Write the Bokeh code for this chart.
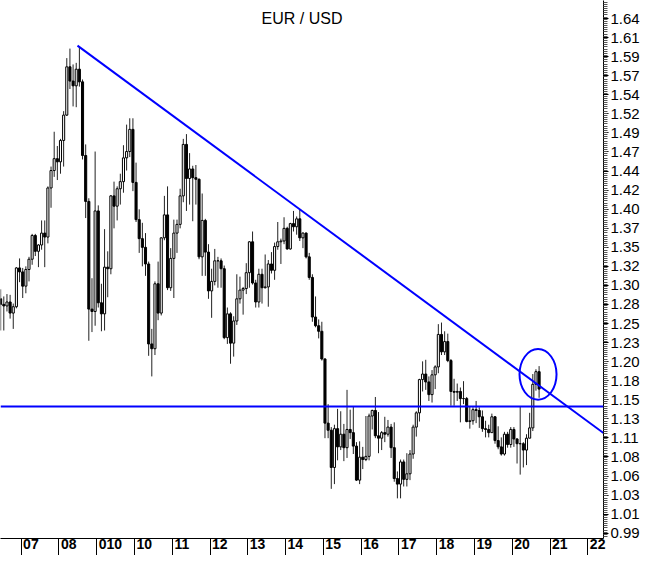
import numpy as np
from bokeh.plotting import figure
from bokeh.models import (FixedTicker, CustomJSTickFormatter, Span, Label,
                          Range1d, ColumnDataSource)
from bokeh.embed import file_html
from bokeh.resources import INLINE

# ---------------- data (monthly EUR/USD candles, Jun 2006 - Sep 2020) -------------
title_text = "EUR / USD"
start_year, start_month = 2006, 6
first_open = 1.2860

closes = [
    1.2790, 1.2770, 1.2820, 1.2680, 1.2760, 1.3250, 1.3200,                           # 2006 Jun-Dec
    1.3020, 1.3230, 1.3360, 1.3660, 1.3460, 1.3540, 1.3690, 1.3640, 1.4260, 1.4480, 1.4630, 1.4590,  # 2007
    1.4860, 1.5180, 1.5790, 1.5610, 1.5550, 1.5760, 1.5600, 1.4670, 1.4090, 1.2730, 1.2700, 1.3970,  # 2008
    1.2810, 1.2670, 1.3260, 1.3240, 1.4160, 1.4030, 1.4250, 1.4340, 1.4640, 1.4720, 1.5000, 1.4330,  # 2009
    1.3860, 1.3620, 1.3510, 1.3300, 1.2290, 1.2230, 1.3050, 1.2680, 1.3630, 1.3920, 1.3000, 1.3370,  # 2010
    1.3690, 1.3800, 1.4160, 1.4810, 1.4380, 1.4500, 1.4390, 1.4370, 1.3390, 1.3850, 1.3450, 1.2960,  # 2011
    1.3080, 1.3340, 1.3340, 1.3240, 1.2370, 1.2670, 1.2300, 1.2580, 1.2860, 1.2970, 1.2990, 1.3190,  # 2012
    1.3580, 1.3060, 1.2820, 1.3170, 1.3000, 1.3010, 1.3300, 1.3220, 1.3520, 1.3580, 1.3590, 1.3750,  # 2013
    1.3490, 1.3810, 1.3770, 1.3870, 1.3630, 1.3690, 1.3390, 1.3130, 1.2630, 1.2520, 1.2450, 1.2100,  # 2014
    1.1290, 1.1200, 1.0730, 1.1220, 1.0990, 1.1150, 1.0980, 1.1210, 1.1170, 1.1000, 1.0570, 1.0860,  # 2015
    1.0830, 1.0870, 1.1380, 1.1450, 1.1130, 1.1100, 1.1170, 1.1150, 1.1240, 1.0980, 1.0590, 1.0520,  # 2016
    1.0800, 1.0580, 1.0650, 1.0900, 1.1240, 1.1420, 1.1840, 1.1910, 1.1810, 1.1650, 1.1900, 1.2000,  # 2017
    1.2410, 1.2190, 1.2320, 1.2080, 1.1690, 1.1680, 1.1690, 1.1600, 1.1600, 1.1310, 1.1320, 1.1460,  # 2018
    1.1450, 1.1370, 1.1220, 1.1210, 1.1170, 1.1370, 1.1070, 1.0990, 1.0900, 1.1150, 1.1020, 1.1210,  # 2019
    1.1090, 1.1030, 1.1030, 1.0950, 1.1100, 1.1230, 1.1780, 1.1940, 1.1720,                          # 2020 Jan-Sep
]
highs = [
    1.2980, 1.2890, 1.2920, 1.2910, 1.2800, 1.3260, 1.3370,
    1.3250, 1.3270, 1.3390, 1.3680, 1.3680, 1.3550, 1.3850, 1.3850, 1.4280, 1.4530, 1.4970, 1.4790,
    1.4880, 1.5230, 1.5900, 1.6020, 1.5820, 1.5840, 1.6040, 1.5630, 1.4810, 1.4130, 1.3120, 1.4720,
    1.4040, 1.3050, 1.3740, 1.3460, 1.4170, 1.4340, 1.4280, 1.4440, 1.4800, 1.5060, 1.5140, 1.5140,
    1.4580, 1.3990, 1.3820, 1.3690, 1.3330, 1.2480, 1.3080, 1.3330, 1.3640, 1.4160, 1.4280, 1.3500,
    1.3860, 1.3860, 1.4250, 1.4880, 1.4940, 1.4700, 1.4540, 1.4550, 1.4380, 1.4190, 1.3870, 1.3550,
    1.3240, 1.3490, 1.3390, 1.3370, 1.3280, 1.2750, 1.2690, 1.2640, 1.3170, 1.3140, 1.3010, 1.3310,
    1.3590, 1.3710, 1.3100, 1.3240, 1.3240, 1.3420, 1.3350, 1.3450, 1.3570, 1.3830, 1.3620, 1.3890,
    1.3770, 1.3820, 1.3970, 1.3900, 1.3990, 1.3700, 1.3700, 1.3440, 1.3170, 1.2890, 1.2600, 1.2570,
    1.2110, 1.1530, 1.1240, 1.1270, 1.1470, 1.1440, 1.1280, 1.1710, 1.1460, 1.1500, 1.1050, 1.1060,
    1.0990, 1.1380, 1.1410, 1.1460, 1.1620, 1.1430, 1.1190, 1.1370, 1.1330, 1.1280, 1.1300, 1.0680,
    1.0830, 1.0830, 1.0910, 1.0950, 1.1270, 1.1440, 1.1850, 1.2070, 1.2090, 1.1880, 1.1960, 1.2020,
    1.2540, 1.2560, 1.2450, 1.2420, 1.2100, 1.1850, 1.1790, 1.1740, 1.1820, 1.1620, 1.1500, 1.1490,
    1.1570, 1.1490, 1.1450, 1.1320, 1.1270, 1.1410, 1.1380, 1.1250, 1.1110, 1.1180, 1.1180, 1.1240,
    1.1240, 1.1100, 1.1500, 1.1050, 1.1150, 1.1420, 1.1910, 1.1970, 1.2010,
]
lows = [
    1.2460, 1.2460, 1.2700, 1.2610, 1.2480, 1.2740, 1.3070,
    1.2870, 1.2930, 1.3080, 1.3290, 1.3400, 1.3260, 1.3480, 1.3260, 1.3560, 1.4010, 1.4400, 1.4360,
    1.4440, 1.4530, 1.5170, 1.5510, 1.5290, 1.5280, 1.5540, 1.4620, 1.3880, 1.2330, 1.2440, 1.2520,
    1.2750, 1.2450, 1.2460, 1.2880, 1.3170, 1.3750, 1.3850, 1.4050, 1.4200, 1.4480, 1.4650, 1.4220,
    1.3830, 1.3440, 1.3270, 1.3150, 1.2140, 1.1880, 1.2150, 1.2590, 1.2650, 1.3600, 1.2970, 1.2960,
    1.2870, 1.3440, 1.3750, 1.4080, 1.3970, 1.4050, 1.3840, 1.4050, 1.3360, 1.3150, 1.3150, 1.2860,
    1.2620, 1.3030, 1.3000, 1.3000, 1.2350, 1.2290, 1.2040, 1.2130, 1.2530, 1.2800, 1.2660, 1.2920,
    1.3000, 1.3040, 1.2750, 1.2750, 1.2800, 1.2990, 1.2760, 1.3180, 1.3100, 1.3480, 1.3300, 1.3550,
    1.3480, 1.3480, 1.3710, 1.3670, 1.3590, 1.3500, 1.3370, 1.3100, 1.2570, 1.2500, 1.2360, 1.2080,
    1.1100, 1.1100, 1.0460, 1.0520, 1.0820, 1.0950, 1.0810, 1.0850, 1.1090, 1.0900, 1.0560, 1.0520,
    1.0710, 1.0810, 1.0820, 1.1210, 1.1100, 1.0910, 1.0950, 1.1050, 1.1120, 1.0850, 1.0550, 1.0340,
    1.0340, 1.0490, 1.0490, 1.0570, 1.0840, 1.1120, 1.1310, 1.1690, 1.1710, 1.1570, 1.1550, 1.1720,
    1.1920, 1.2150, 1.2150, 1.2060, 1.1510, 1.1510, 1.1570, 1.1300, 1.1530, 1.1300, 1.1220, 1.1270,
    1.1290, 1.1230, 1.1180, 1.1110, 1.1110, 1.1180, 1.1030, 1.0960, 1.0880, 1.0880, 1.0980, 1.0980,
    1.0990, 1.0780, 1.0640, 1.0730, 1.0760, 1.1100, 1.1190, 1.1700, 1.1610,
]

# reference levels drawn on the chart
support_level = 1.15
trend_anchor_months = [(2008, 7), (2014, 5)]   # peaks the resistance line joins
highlight_center = (2020.68, 1.1906)           # circled breakout
highlight_size = (0.98, 0.064)

# axis labels
x_tick_years = list(range(2007, 2023))
x_tick_labels = ["07", "08", "010", "10", "11", "12", "13", "14", "15", "16",
                 "17", "18", "19", "20", "21", "22"]
y_tick_labels = ["0.99", "1.01", "1.03", "1.06", "1.08", "1.11", "1.13", "1.15",
                 "1.18", "1.20", "1.23", "1.25", "1.28", "1.30", "1.32", "1.35",
                 "1.37", "1.40", "1.42", "1.44", "1.47", "1.49", "1.52", "1.54",
                 "1.57", "1.59", "1.61", "1.64"]

# ---------------- derived ----------------
n = len(closes)
assert len(highs) == n and len(lows) == n
opens = [first_open] + closes[:-1]
t = np.array([start_year + (start_month - 1 + i + 0.5) / 12.0 for i in range(n)])
o = np.array(opens); c = np.array(closes); h = np.array(highs); l = np.array(lows)
up = c >= o

src = ColumnDataSource(dict(t=t, high=h, low=l))
src_up = ColumnDataSource(dict(t=t[up], top=np.maximum(o, c)[up], bottom=np.minimum(o, c)[up]))
src_dn = ColumnDataSource(dict(t=t[~up], top=np.maximum(o, c)[~up], bottom=np.minimum(o, c)[~up]))

# layout (pixels) and scales
W, H = 642, 555
FRAME_W, FRAME_H = 605, 538
PX_PER_YEAR = 37.91
PX_PER_UNIT = 791.8
X0 = 2006.454
X1 = X0 + FRAME_W / PX_PER_YEAR
Y1 = 1.15 + 406 / PX_PER_UNIT
Y0 = Y1 - FRAME_H / PX_PER_UNIT

def month_index(y, m):
    return (y - start_year) * 12 + (m - start_month)

i1 = month_index(*trend_anchor_months[0]); i2 = month_index(*trend_anchor_months[1])
slope = (h[i2] - h[i1]) / (t[i2] - t[i1])
trend_x = [t[i1] - 0.05, X1]
trend_y = [h[i1] - 0.05 * slope, h[i1] + slope * (X1 - t[i1])]

FONT = "Liberation Sans"

p = figure(width=W, height=H, output_backend="svg", toolbar_location=None,
           x_range=Range1d(X0, X1), y_range=Range1d(Y0, Y1),
           y_axis_location="right", min_border_left=0, min_border_top=0,
           min_border_right=W - FRAME_W, min_border_bottom=H - FRAME_H)
p.outline_line_color = None
p.grid.visible = False
p.background_fill_color = "white"
p.border_fill_color = "white"

# x axis: separators at year starts (minor ticks), labels just right of them
label_centers = [yr + (2 + 0.556 * 14 * len(lbl) / 2.0) / PX_PER_YEAR
                 for yr, lbl in zip(x_tick_years, x_tick_labels)]
xa = p.xaxis[0]
xa.ticker = FixedTicker(ticks=label_centers, minor_ticks=x_tick_years)
xa.formatter = CustomJSTickFormatter(args=dict(vals=label_centers, labels=x_tick_labels), code="""
let b = 0;
for (let i = 0; i < vals.length; i++) { if (Math.abs(vals[i] - tick) < Math.abs(vals[b] - tick)) b = i; }
return labels[b];
""")
xa.major_tick_line_color = None
xa.major_tick_out = 0
xa.major_tick_in = 0
xa.minor_tick_out = H - FRAME_H
xa.minor_tick_in = 0
xa.minor_tick_line_color = "black"
xa.axis_line_color = "black"
xa.major_label_standoff = -(H - FRAME_H)
xa.major_label_text_font = FONT
xa.major_label_text_font_style = "bold"
xa.major_label_text_font_size = "14px"
xa.major_label_text_color = "black"

# y axis on the right
y_tick_vals = list(np.linspace(0.99, 1.64, len(y_tick_labels)))
ya = p.yaxis[0]
ya.ticker = FixedTicker(ticks=y_tick_vals, minor_ticks=list(np.arange(0.975, 1.663, 0.0027)))
ya.formatter = CustomJSTickFormatter(args=dict(vals=y_tick_vals, labels=y_tick_labels), code="""
let b = 0;
for (let i = 0; i < vals.length; i++) { if (Math.abs(vals[i] - tick) < Math.abs(vals[b] - tick)) b = i; }
return labels[b];
""")
ya.major_tick_out = 5
ya.major_tick_in = 0
ya.minor_tick_out = 4
ya.minor_tick_in = 0
ya.minor_tick_line_color = "#555555"
ya.major_tick_line_color = "black"
ya.axis_line_color = "black"
ya.major_label_standoff = 2
ya.major_label_text_font = FONT
ya.major_label_text_font_size = "15px"
ya.major_label_text_color = "black"

# candles
p.segment(x0="t", y0="high", x1="t", y1="low", source=src, line_color="#222222", line_width=1)
p.vbar(x="t", width=0.055, top="top", bottom="bottom", source=src_up,
       fill_color="white", line_color="black", line_width=1)
p.vbar(x="t", width=0.055, top="top", bottom="bottom", source=src_dn,
       fill_color="black", line_color="black", line_width=1)

BLUE = "#0000ff"
p.add_layout(Span(location=support_level, dimension="width", line_color=BLUE, line_width=2))
p.line(trend_x, trend_y, line_color=BLUE, line_width=2)
p.ellipse(x=[highlight_center[0]], y=[highlight_center[1]],
          width=[highlight_size[0]], height=[highlight_size[1]],
          fill_color=None, line_color=BLUE, line_width=2)

p.add_layout(Label(x=(X0 + X1) / 2, y=Y1 - 18.3 / PX_PER_UNIT, text=title_text, text_align="center",
                   text_baseline="alphabetic", text_font=FONT, text_font_size="16px",
                   text_color="black"))

open("out.html", "w").write(file_html(p, INLINE))
